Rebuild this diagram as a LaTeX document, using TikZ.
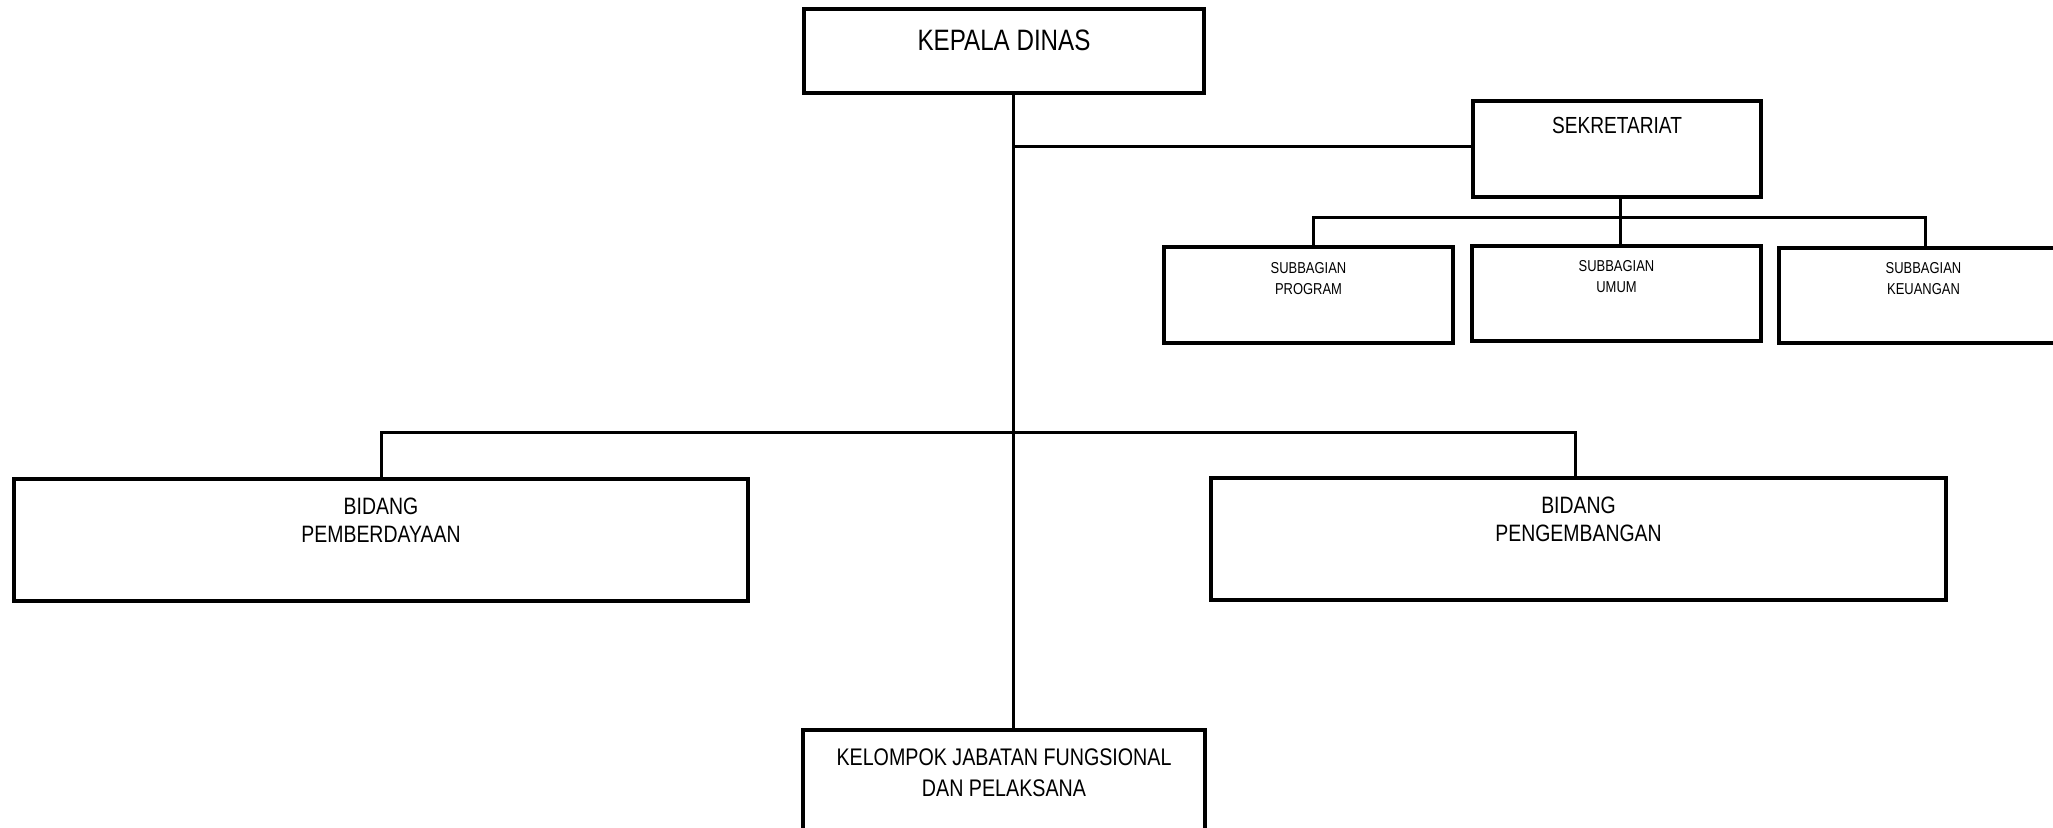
\documentclass[tikz,border=0pt]{standalone}
\usepackage{fontspec}
\setmainfont{Liberation Sans}[FakeStretch=0.82]
\begin{document}
\begin{tikzpicture}[x=0.5pt,y=-0.5pt]
\tikzset{
  box/.style n args={2}{draw, line width=1.6pt, minimum width=#1*0.5pt, minimum height=#2*0.5pt, inner sep=0pt, outer sep=0pt},
  conn/.style={line width=1.5pt, line join=miter},
  lbl/.style={align=center, inner sep=0pt},
  fkd/.style={font=\fontsize{14.75}{17}\selectfont},
  fsek/.style={font=\fontsize{11.65}{14}\selectfont},
  fbid/.style={font=\fontsize{11.85}{14}\selectfont},
  fkj/.style={font=\fontsize{12}{15.5}\selectfont},
  fsub/.style={font=\fontsize{7.9}{10.5}\selectfont},
}
\useasboundingbox (0,0) rectangle (2053,828);
\clip (0,0) rectangle (2053,828);

% boxes
\node[box={400}{84}, label={[lbl,fkd,yshift=5.5pt]center:KEPALA DINAS}] (kd) at (1004,51) {};
\node[box={288}{96}, label={[lbl,fsek,yshift=12pt]center:SEKRETARIAT}] (sek) at (1617,149) {};
\node[box={289}{96}, label={[lbl,fsub,yshift=8.25pt]center:{SUBBAGIAN\\PROGRAM}}] (prog) at (1308.5,295) {};
\node[box={289}{95}, label={[lbl,fsub,yshift=8.25pt]center:{SUBBAGIAN\\UMUM}}] (umum) at (1616.5,293.5) {};
\node[box={289}{95}, label={[lbl,fsub,yshift=8.5pt]center:{SUBBAGIAN\\KEUANGAN}}] (keu) at (1923.5,295.5) {};
\node[box={734}{122}, label={[lbl,fbid,yshift=10pt]center:{BIDANG\\PEMBERDAYAAN}}] (pemb) at (381,540) {};
\node[box={735}{122}, label={[lbl,fbid,yshift=10pt]center:{BIDANG\\PENGEMBANGAN}}] (peng) at (1578.5,539) {};
\node[box={402}{102}, label={[lbl,fkj,yshift=4.25pt]center:{KELOMPOK JABATAN FUNGSIONAL\\DAN PELAKSANA}}] (kj) at (1004,781) {};

% junction coordinates
\coordinate (sp) at (1013,147);
\coordinate (b1) at (381,433);
\coordinate (b2) at (1575,433);
\coordinate (s0) at (1620,218);
\coordinate (s1) at (1313,218);
\coordinate (s3) at (1925,218);

% connectors
\draw[conn] (kd.south -| sp) -- (kj.north -| sp);
\draw[conn] (sp) -- (sp -| sek.west);
\draw[conn] (pemb.north -| b1) -- (b1) -- (b2) -- (peng.north -| b2);
\draw[conn] (sek.south -| s0) -- (umum.north -| s0);
\draw[conn] (prog.north -| s1) -- (s1) -- (s3) -- (keu.north -| s3);
\end{tikzpicture}
\end{document}
